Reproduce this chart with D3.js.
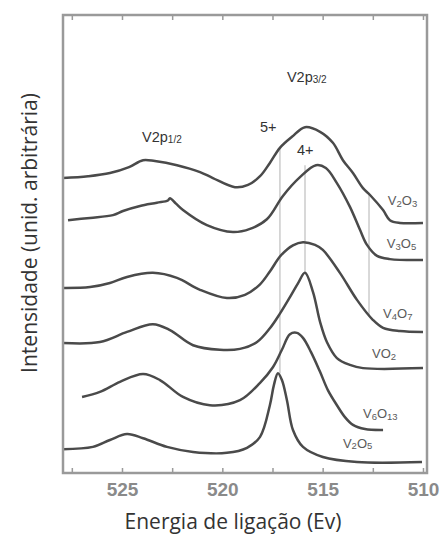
<!DOCTYPE html>
<html lang="pt">
<head>
<meta charset="UTF-8">
<title>Espectros XPS V2p</title>
<script src="https://d3js.org/d3.v7.min.js"></script>
<style>
    body { margin: 0; background: #fff; }
    svg { display: block; }
</style>
</head>
<body>
<div id="chart"></div>
<script>
    // energies (eV) and intensities (arb. units)
    var eV2O3 = [527.94, 526.69, 525.60, 524.65, 523.95, 523.36, 522.26, 521.11, 520.47, 519.37, 518.72, 518.12, 517.63, 517.13, 516.53, 515.88, 515.13, 514.49, 513.99, 513.49, 512.99, 512.64, 511.99, 511.65, 511.15, 510.00];
    var iV2O3 = [64.4, 64.8, 65.5, 66.8, 68.3, 68.1, 67.2, 65.7, 64.4, 62.4, 62.9, 64.8, 67.7, 71.0, 73.4, 75.5, 74.5, 72.1, 68.3, 65.5, 62.2, 60.7, 57.4, 55.2, 54.6, 54.6];

    var eV3O5 = [527.69, 526.59, 525.45, 524.95, 524.10, 523.26, 522.71, 522.61, 522.31, 521.96, 520.77, 519.47, 518.62, 517.78, 516.98, 516.13, 515.33, 514.84, 514.29, 513.64, 513.14, 512.79, 512.29, 511.65, 510.00];
    var iV3O5 = [55.2, 55.7, 56.3, 57.2, 58.3, 59.0, 59.5, 60.0, 58.8, 57.4, 54.1, 52.6, 53.3, 55.4, 60.5, 64.6, 67.2, 66.6, 63.3, 58.1, 53.1, 49.8, 47.4, 46.7, 46.5];

    var eV4O7 = [527.94, 526.59, 525.60, 524.75, 523.46, 522.26, 521.11, 519.77, 518.87, 518.12, 517.63, 517.08, 516.48, 515.98, 515.38, 514.99, 514.14, 513.29, 512.49, 511.99, 511.15, 510.00];
    var iV4O7 = [40.4, 40.6, 41.5, 42.8, 43.7, 42.6, 40.0, 38.2, 38.9, 41.2, 44.0, 47.5, 49.7, 50.4, 49.8, 48.7, 43.7, 37.8, 33.4, 31.7, 31.0, 30.8];

    var eVO2 = [527.94, 526.10, 524.75, 523.46, 522.61, 521.46, 520.12, 519.12, 518.27, 517.63, 517.13, 516.63, 516.23, 515.88, 515.48, 515.13, 514.79, 514.29, 513.64, 512.99, 510.00];
    var iVO2 = [28.4, 28.6, 30.8, 32.5, 31.2, 27.9, 26.9, 27.1, 28.6, 31.6, 34.8, 38.4, 41.4, 43.7, 39.5, 33.0, 28.6, 25.1, 23.6, 22.9, 22.9];

    var eV6O13 = [526.99, 526.10, 525.10, 523.95, 523.11, 521.96, 520.62, 519.12, 518.12, 517.48, 517.03, 516.63, 516.28, 515.98, 515.58, 515.13, 514.74, 514.29, 513.89, 513.49, 512.89, 511.99];
    var iV6O13 = [16.6, 17.7, 19.9, 21.6, 20.3, 16.6, 14.8, 15.9, 19.7, 23.1, 26.9, 30.3, 30.6, 29.5, 26.4, 22.1, 18.1, 14.8, 12.2, 10.5, 9.6, 9.4];

    var eV2O5 = [527.94, 526.45, 525.60, 524.75, 523.95, 522.76, 521.46, 519.77, 518.77, 518.12, 517.63, 517.43, 517.23, 517.03, 516.78, 516.48, 515.98, 514.99, 513.29, 510.05];
    var iV2O5 = [5.2, 5.7, 7.2, 8.5, 7.6, 5.7, 4.6, 4.4, 5.5, 7.9, 14.8, 19.2, 21.8, 20.3, 15.9, 9.4, 5.7, 3.5, 2.4, 2.4];

    // vertical guide lines: energy, top and bottom intensity
    var guideE = [517.13, 515.88, 512.69];
    var guideTop = [71.0, 67.2, 60.7];
    var guideBottom = [21.8, 43.7, 34.5];

    var tickLabels = [525, 520, 515, 510];
    var minorTicks = [527.5, 525, 522.5, 520, 517.5, 515, 512.5, 510];

    // spectrum labels (name, subscripts) anchored in data units
    var curveLabels = [
        {parts: [["V", 0], ["2", 1], ["O", 0], ["3", 1]], e: 511.75, i: 58.5},
        {parts: [["V", 0], ["3", 1], ["O", 0], ["5", 1]], e: 511.80, i: 49.1},
        {parts: [["V", 0], ["4", 1], ["O", 0], ["7", 1]], e: 511.99, i: 33.8},
        {parts: [["VO", 0], ["2", 1]], e: 512.54, i: 25.1},
        {parts: [["V", 0], ["6", 1], ["O", 0], ["13", 1]], e: 512.99, i: 12.0},
        {parts: [["V", 0], ["2", 1], ["O", 0], ["5", 1]], e: 513.99, i: 5.5}
    ];
    var peakLabels = [
        {parts: [["V2p", 0], ["1/2", 1]], e: 524.0, i: 72.3},
        {parts: [["V2p", 0], ["3/2", 1]], e: 516.78, i: 85.4},
        {parts: [["5+", 0]], e: 518.12, i: 74.5},
        {parts: [["4+", 0]], e: 516.28, i: 69.4}
    ];

    var W = 442, H = 537;
    var margin = {top: 15, right: 15, bottom: 64, left: 63};
    var width = W - margin.left - margin.right,
        height = H - margin.top - margin.bottom;

    var svg = d3.select("#chart").append("svg")
        .attr("width", W)
        .attr("height", H);

    var g = svg.append("g")
        .attr("transform", "translate(" + margin.left + "," + margin.top + ")");

    var x = d3.scaleLinear().domain([527.94, 509.8]).range([0, width]);
    var y = d3.scaleLinear().domain([0, 100]).range([height, 0]);

    // guide lines
    g.selectAll(".guide")
        .data(guideE)
        .enter().append("line")
        .attr("x1", function(d) { return x(d); })
        .attr("x2", function(d) { return x(d); })
        .attr("y1", function(d, k) { return y(guideTop[k]); })
        .attr("y2", function(d, k) { return y(guideBottom[k]); })
        .style("stroke", "#cfcfcf")
        .style("stroke-width", 1.6);

    // spectra
    var series = [
        [eV2O3, iV2O3], [eV3O5, iV3O5], [eV4O7, iV4O7],
        [eVO2, iVO2], [eV6O13, iV6O13], [eV2O5, iV2O5]
    ];
    var line = d3.line()
        .x(function(d) { return x(d[0]); })
        .y(function(d) { return y(d[1]); })
        .curve(d3.curveCatmullRom.alpha(0.5));

    series.forEach(function(s) {
        var pts = s[0].map(function(e, k) { return [e, s[1][k]]; });
        g.append("path")
            .datum(pts)
            .attr("d", line)
            .style("fill", "none")
            .style("stroke", "#4a4a4a")
            .style("stroke-width", 2.5)
            .style("stroke-linejoin", "round");
    });

    // text with small lowered parts
    function addLabel(lab, size, subSize, color) {
        var t = g.append("text")
            .attr("x", x(lab.e))
            .attr("y", y(lab.i))
            .style("font-family", "'Liberation Sans', Arial, sans-serif")
            .style("font-size", size + "px")
            .style("fill", color);
        var low = false;
        lab.parts.forEach(function(p) {
            var ts = t.append("tspan").text(p[0]);
            if (p[1]) {
                ts.style("font-size", subSize + "px");
                if (!low) { ts.attr("dy", 1.5); low = true; }
            } else if (low) {
                ts.attr("dy", -1.5); low = false;
            }
        });
    }
    curveLabels.forEach(function(l) { addLabel(l, 13, 9.5, "#5a5a5a"); });
    peakLabels.forEach(function(l) { addLabel(l, 14.5, 10, "#333"); });

    // frame
    g.append("rect")
        .attr("width", width)
        .attr("height", height)
        .style("fill", "none")
        .style("stroke", "#9a9a9a")
        .style("stroke-width", 2.5);

    // inward ticks on top and bottom
    g.append("g")
        .attr("transform", "translate(0," + height + ")")
        .call(d3.axisBottom(x).tickValues(minorTicks).tickSize(-5).tickFormat(""))
        .call(function(a) { a.select(".domain").remove(); a.selectAll("line").style("stroke", "#9a9a9a").style("stroke-width", 1.5); });
    g.append("g")
        .call(d3.axisTop(x).tickValues(minorTicks).tickSize(-5).tickFormat(""))
        .call(function(a) { a.select(".domain").remove(); a.selectAll("line").style("stroke", "#9a9a9a").style("stroke-width", 1.5); });

    // tick labels
    g.append("g")
        .attr("transform", "translate(0," + height + ")")
        .call(d3.axisBottom(x).tickValues(tickLabels).tickSize(0).tickPadding(10))
        .call(function(a) {
            a.select(".domain").remove();
            a.selectAll("text")
                .style("font-family", "'Liberation Sans', Arial, sans-serif")
                .style("font-size", "19px")
                .style("font-weight", "bold")
                .style("fill", "#8a8a8a");
        });

    // axis titles
    svg.append("text")
        .attr("x", margin.left + width / 2 - 12)
        .attr("y", 529)
        .attr("text-anchor", "middle")
        .style("font-family", "'Open Sans', sans-serif")
        .style("font-size", "21px")
        .style("fill", "#333")
        .text("Energia de ligação (Ev)");

    svg.append("text")
        .attr("transform", "translate(37," + 233 + ")rotate(-90)")
        .attr("text-anchor", "middle")
        .style("font-family", "'Open Sans', sans-serif")
        .style("font-size", "21px")
        .style("fill", "#333")
        .text("Intensidade (unid. arbitrária)");
</script>
</body>
</html>
